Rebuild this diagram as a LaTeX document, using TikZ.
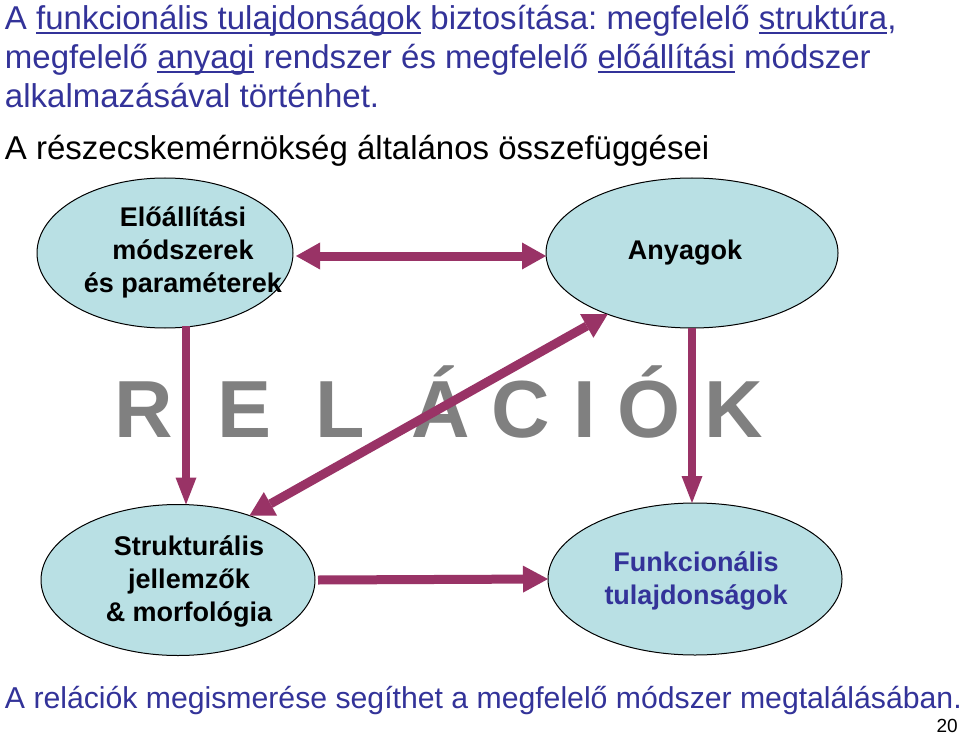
\documentclass[tikz,border=0pt]{standalone}
\usepackage{fontspec}
\setmainfont{Liberation Sans}
\usetikzlibrary{arrows.meta,calc,shapes.geometric}
\definecolor{titleblue}{RGB}{51,51,153}
\definecolor{arrowc}{RGB}{153,51,102}
\definecolor{ellfill}{RGB}{185,224,228}
\definecolor{relgray}{RGB}{128,128,128}
\frenchspacing
\newcommand\myul[1]{\setbox0=\hbox{#1}\rlap{\rule[-4.5pt]{\wd0}{2pt}}\box0\relax}
\tikzset{
  titletext/.style={anchor=base west,inner sep=0pt,outer sep=0pt,font=\fontsize{33}{39}\selectfont},
  ell/.style={ellipse,draw=black,line width=1pt,fill=ellfill,inner sep=0pt,outer sep=0pt},
  etext/.style={align=center,inner sep=0pt,font=\fontsize{27}{33}\selectfont\bfseries},
  rel/.style={anchor=base,inner sep=0pt,text=relgray,font=\fontsize{81}{81}\selectfont\bfseries},
  bigarrow/.style={draw=arrowc,line width=9pt},
  single/.style={bigarrow,-{Triangle[length=25pt,width=27pt,line width=0pt]}},
  double/.style={bigarrow,{Triangle[length=24pt,width=27pt,line width=0pt]}-{Triangle[length=24pt,width=27pt,line width=0pt]}},
  vert/.style={draw=arrowc,line width=8pt,-{Triangle[length=27pt,width=21pt,line width=0pt]}}
}
\begin{document}
\begin{tikzpicture}[x=1pt,y=-1pt]
\useasboundingbox[fill=white] (0,0) rectangle (960,735);
% title texts
\node[titletext,text=titleblue] (t1) at (5,30) {A \myul{funkcionális tulajdonságok} biztosítása: megfelelő \myul{struktúra},};
\node[titletext,text=titleblue] (t2) at (5,69) {megfelelő \myul{anyagi} rendszer és megfelelő \myul{előállítási} módszer};
\node[titletext,text=titleblue] (t3) at (5,108) {alkalmazásával történhet.};
\node[titletext,text=black] (t4) at (5,160) {A részecskemérnökség általános összefüggései};
% RELACIOK
\node[rel] (r1) at (143.5,437) {R};
\node[rel] (r2) at (244.5,437) {E};
\node[rel] (r3) at (340,437) {L};
\node[rel] (r4) at (440.5,437) {Á};
\node[rel] (r5) at (521,437) {C};
\node[rel] (r6) at (584.5,437) {I};
\node[rel] (r7) at (648.5,437) {Ó};
\node[rel] (r8) at (734,437) {K};
% ellipses
\node[ell,minimum width=256pt,minimum height=150pt] (e1) at (165,253) {};
\node[ell,minimum width=292pt,minimum height=150pt] (e2) at (692,253) {};
\node[ell,minimum width=274pt,minimum height=151pt] (e3) at (178,580) {};
\node[ell,minimum width=294pt,minimum height=152pt] (e4) at (695,579) {};
\node[etext,text=black] (l1) at ($(e1)+(18,-1)$) {Előállítási\\módszerek\\és paraméterek};
\node[etext,text=black] (l2) at ($(e2)+(-7,0)$) {Anyagok};
\node[etext,text=black] (l3) at ($(e3)+(11,1)$) {Strukturális\\jellemzők\\\& morfológia};
\node[etext,text=titleblue] (l4) at ($(e4)+(1,2)$) {Funkcionális\\tulajdonságok};
% arrows
\draw[double] ($(e1.east)+(3,3)$) -- ($(e2.west)+(0,3)$);
\draw[vert] ($(e1.south)+(21,-2)$) -- ($(e3.north)+(8,0)$);
\draw[vert] (e2.south) -- (e2.south |- e4.north);
\draw[double] (e3.42.6) -- (e2.216);
\draw[single] ($(e3.east)+(3,0)$) -- (e4.west);
% bottom texts
\node[titletext,text=titleblue,font=\fontsize{30.2}{36}\selectfont] (b1) at (5,708) {A relációk megismerése segíthet a megfelelő módszer megtalálásában.};
\node[anchor=base east,inner sep=0pt,font=\fontsize{19}{19}\selectfont] (pg) at (958,732) {20};
\end{tikzpicture}
\end{document}
